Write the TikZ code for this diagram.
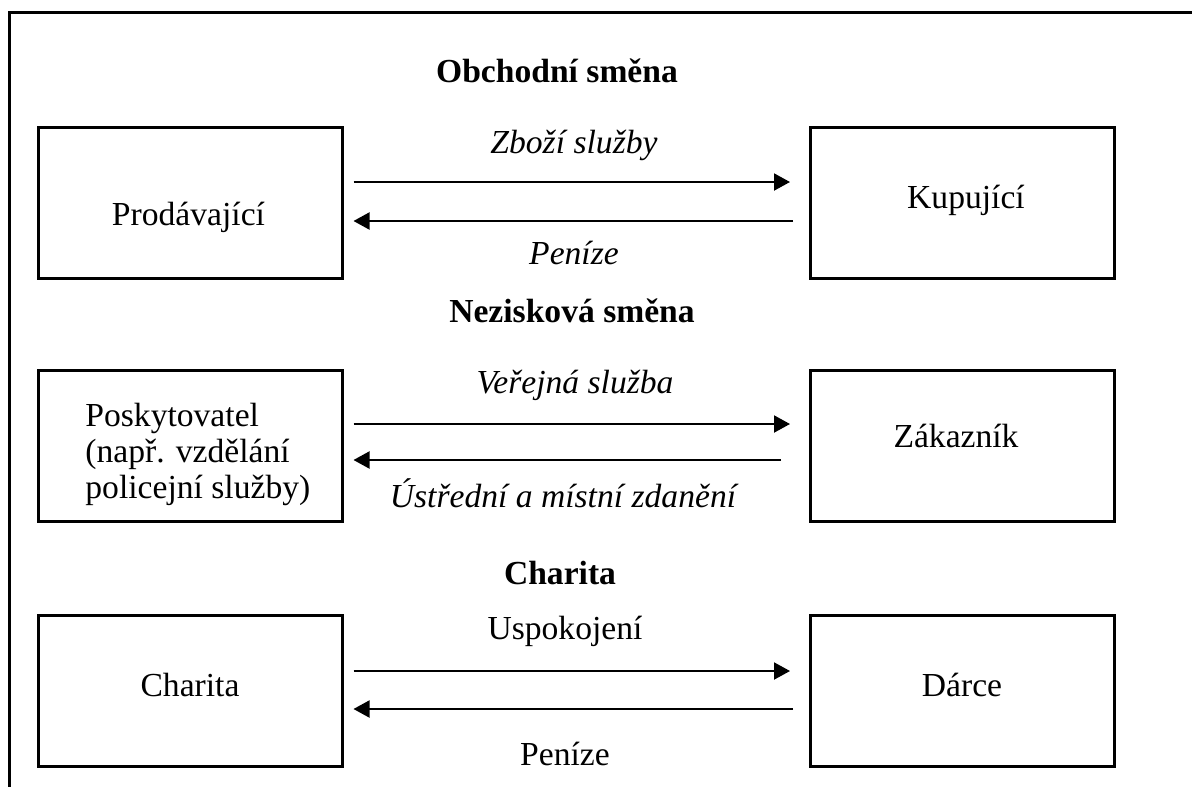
\documentclass[tikz,border=0pt]{standalone}
\usepackage{fontspec}
\setmainfont{Liberation Serif}
\usetikzlibrary{arrows.meta}
\tikzset{
  box/.style={draw, line width=1.5pt, minimum width=152pt, minimum height=75.5pt, inner sep=0pt},
  txt/.style={anchor=base, inner sep=0pt, font=\fontsize{16.8}{18}\selectfont},
  ttl/.style={txt, font=\fontsize{16.8}{18}\selectfont\bfseries},
  itl/.style={txt, font=\fontsize{16.8}{18}\selectfont\itshape},
  arr/.style={line width=1pt, -{Triangle[length=8pt,width=8.5pt]}},
  frame/.style={line width=1.5pt}
}
\begin{document}
\begin{tikzpicture}[x=0.5pt,y=-0.5pt]
\useasboundingbox (0,0) rectangle (1192,787);
\draw[frame] (1192,12) -- (9,12) -- (9,787);

% row 1
\node[ttl] (t1) at (557,82) {Obchodní směna};
\node[box] (pro) at (190,202.5) {};
\node[box] (kup) at (962.5,202.5) {};
\node[txt] (prot) at (188.5,225) {Prodávající};
\node[txt] (kupt) at (966,208) {Kupující};
\coordinate (r1a) at (0,182);
\coordinate (r1b) at (0,221);
\draw[arr] (pro.east |- r1a) -- (kup.west |- r1a) [shorten <=5pt, shorten >=9.5pt];
\draw[arr] (kup.west |- r1b) -- (pro.east |- r1b) [shorten <=8pt, shorten >=5pt];
\node[itl] (l1a) at (574,153) {Zboží služby};
\node[itl] (l1b) at (574,264) {Peníze};

% row 2
\node[ttl] (t2) at (572,322) {Nezisková směna};
\node[box] (pos) at (190,446) {};
\node[box] (zak) at (962.5,446) {};
\node[txt, anchor=north west, align=left, text depth=0pt] (post) at (85,403) {Poskytovatel\\(např. vzdělání\\policejní služby)};
\node[txt] (zakt) at (956,447) {Zákazník};
\coordinate (r2a) at (0,424);
\coordinate (r2b) at (0,460);
\draw[arr] (pos.east |- r2a) -- (zak.west |- r2a) [shorten <=5pt, shorten >=9.5pt];
\draw[arr] (zak.west |- r2b) -- (pos.east |- r2b) [shorten <=14pt, shorten >=5pt];
\node[itl] (l2a) at (575,393) {Veřejná služba};
\node[itl] (l2b) at (563,507) {Ústřední a místní zdanění};

% row 3
\node[ttl] (t3) at (560,584) {Charita};
\node[box] (cha) at (190,691) {};
\node[box] (dar) at (962.5,691) {};
\node[txt] (chat) at (190,696) {Charita};
\node[txt] (dart) at (962,696) {Dárce};
\coordinate (r3a) at (0,671);
\coordinate (r3b) at (0,709);
\draw[arr] (cha.east |- r3a) -- (dar.west |- r3a) [shorten <=5pt, shorten >=9.5pt];
\draw[arr] (dar.west |- r3b) -- (cha.east |- r3b) [shorten <=8pt, shorten >=5pt];
\node[txt] (l3a) at (565,639) {Uspokojení};
\node[txt] (l3b) at (565,765) {Peníze};
\end{tikzpicture}
\end{document}
